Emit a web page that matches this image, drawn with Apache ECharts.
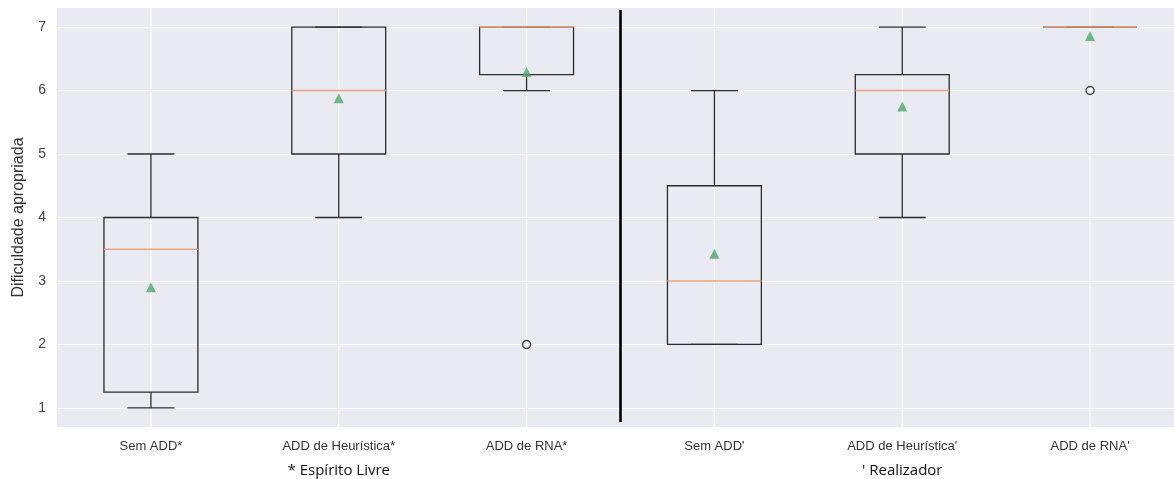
<!DOCTYPE html>
<html>
<head>
<meta charset="utf-8">
<script src="https://cdn.jsdelivr.net/npm/echarts@6/dist/echarts.min.js"></script>
<style>
  html, body { margin: 0; padding: 0; background: #ffffff; }
  #chart { width: 1174px; height: 479px; }
</style>
</head>
<body>
<div id="chart"></div>
<script>
// Groups shown on the x axis
const categories = ['Sem ADD*', 'ADD de Heurística*', 'ADD de RNA*', "Sem ADD'", "ADD de Heurística'", "ADD de RNA'"];

// Box statistics per group
const whiskerLow  = [1, 4, 6, 2, 4, 7];
const q1          = [1.25, 5, 6.25, 2, 5, 7];
const medians     = [3.5, 6, 7, 3, 6, 7];
const q3          = [4, 7, 7, 4.5, 6.25, 7];
const whiskerHigh = [5, 7, 7, 6, 7, 7];

// Group means (triangles)
const means = [2.9, 5.88, 6.29, 3.43, 5.75, 6.86];

// Outliers: [group index, value]
const outliers = [[2, 2], [5, 6]];

// Y tick values
const yTicks = [1, 2, 3, 4, 5, 6, 7];

// Group captions below the axis, each under its middle category
const groupCaptions = ['* Espírito Livre', "' Realizador"];
const captionCategory = [1, 4];

const boxData = categories.map((c, i) => [i, whiskerLow[i], q1[i], medians[i], q3[i], whiskerHigh[i]]);
const meanData = categories.map((c, i) => [i, means[i]]);

const chart = echarts.init(document.getElementById('chart'), null, { renderer: 'canvas' });

const BOX_COLOR = '#2b2b2b';
const MEDIAN_COLOR = '#e9a47f';

function renderBox(params, api) {
  const i = api.value(0);
  const band = api.size([1, 0])[0];
  const half = band * 0.25;
  const capHalf = band * 0.125;
  const pLow = api.coord([i, api.value(1)]);
  const pQ1 = api.coord([i, api.value(2)]);
  const pMed = api.coord([i, api.value(3)]);
  const pQ3 = api.coord([i, api.value(4)]);
  const pHigh = api.coord([i, api.value(5)]);
  const x = pQ1[0];
  const line = (x1, y1, x2, y2, color, w) => ({
    type: 'line',
    shape: { x1, y1, x2, y2 },
    style: { stroke: color, lineWidth: w }
  });
  return {
    type: 'group',
    children: [
      line(x, pLow[1], x, pQ1[1], BOX_COLOR, 1.3),
      line(x, pQ3[1], x, pHigh[1], BOX_COLOR, 1.3),
      line(x - capHalf, pLow[1], x + capHalf, pLow[1], BOX_COLOR, 1.3),
      line(x - capHalf, pHigh[1], x + capHalf, pHigh[1], BOX_COLOR, 1.3),
      {
        type: 'rect',
        shape: { x: x - half, y: pQ3[1], width: half * 2, height: pQ1[1] - pQ3[1] },
        style: { fill: null, stroke: BOX_COLOR, lineWidth: 1.3 }
      },
      line(x - half, pMed[1], x + half, pMed[1], MEDIAN_COLOR, 1.6)
    ]
  };
}

// Vertical grid lines at the group centres
function renderVGrid(params, api) {
  const i = api.value(0);
  const p = api.coord([i, 0]);
  const cs = params.coordSys;
  return {
    type: 'line',
    shape: { x1: p[0], y1: cs.y, x2: p[0], y2: cs.y + cs.height },
    style: { stroke: '#ffffff', lineWidth: 1.2 }
  };
}

// Thick divider between the two profile groups
function renderDivider(params, api) {
  const band = api.size([1, 0])[0];
  const pTop = api.coord([2, 7.27]);
  const pBot = api.coord([2, 0.78]);
  const x = pTop[0] + band / 2;
  return {
    type: 'line',
    shape: { x1: x, y1: pTop[1], x2: x, y2: pBot[1] },
    style: { stroke: '#000000', lineWidth: 2.6 }
  };
}

const option = {
  backgroundColor: '#ffffff',
  animation: false,
  grid: {
    left: 57, top: 8, width: 1127, height: 419,
    outerBoundsMode: 'none',
    containLabel: false,
    show: true, backgroundColor: '#eaeaf2', borderWidth: 0
  },
  xAxis: {
    type: 'category',
    data: categories,
    boundaryGap: true,
    axisLine: { show: false },
    axisTick: { show: false },
    splitLine: { show: false },
    axisLabel: {
      color: '#333333', fontSize: 13, margin: 13,
      fontFamily: 'Liberation Sans, Arial, sans-serif'
    }
  },
  yAxis: {
    type: 'value',
    min: 0.7,
    max: 7.3,
    name: 'Dificuldade apropriada',
    nameLocation: 'middle',
    nameGap: 30,
    nameTextStyle: { color: '#333333', fontSize: 16, fontFamily: 'Liberation Sans, Arial, sans-serif' },
    axisLine: { show: false },
    axisTick: { show: false, customValues: yTicks },
    splitLine: { show: true, lineStyle: { color: '#ffffff', width: 1.2 } },
    axisLabel: {
      customValues: yTicks,
      color: '#444444', fontSize: 14, margin: 11,
      fontFamily: 'Liberation Sans, Arial, sans-serif'
    }
  },
  series: [
    {
      type: 'custom',
      name: 'vgrid',
      z: 1,
      silent: true,
      renderItem: renderVGrid,
      data: categories.map((c, i) => [i, 1])
    },
    {
      type: 'custom',
      name: 'boxes',
      z: 3,
      silent: true,
      renderItem: renderBox,
      encode: { x: 0, y: [1, 2, 3, 4, 5] },
      data: boxData
    },
    {
      type: 'custom',
      name: 'divider',
      z: 4,
      silent: true,
      renderItem: renderDivider,
      data: [[2, 4]]
    },
    {
      type: 'scatter',
      name: 'Média',
      z: 5,
      symbol: 'triangle',
      symbolSize: 10,
      itemStyle: { color: '#4fa865' },
      data: meanData
    },
    {
      type: 'scatter',
      name: 'Outliers',
      z: 5,
      symbol: 'circle',
      symbolSize: 8,
      itemStyle: { color: 'rgba(0,0,0,0)', borderColor: '#111111', borderWidth: 1.4 },
      data: outliers
    }
  ]
};

chart.setOption(option);

// Captions centred under their middle category using the axis scale
chart.setOption({
  graphic: groupCaptions.map((text, k) => ({
    type: 'text',
    x: chart.convertToPixel({ xAxisIndex: 0 }, categories[captionCategory[k]]),
    y: 463,
    style: { text, fill: '#111111', font: '15px "Open Sans", sans-serif', textAlign: 'center' }
  }))
});
</script>
</body>
</html>
